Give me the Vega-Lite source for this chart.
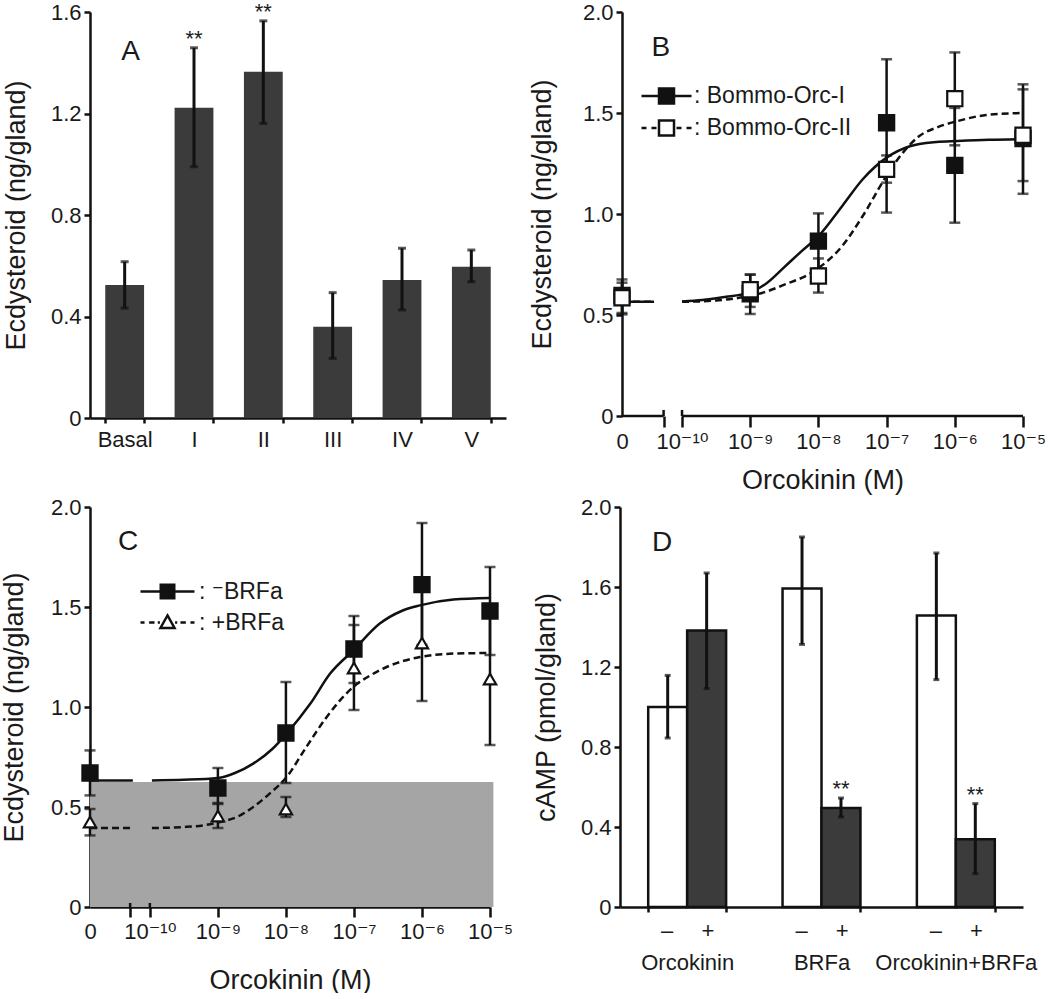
{
  "$schema": "https://vega.github.io/schema/vega-lite/v6.json",
  "padding": {"left": 0, "top": 0, "right": 0, "bottom": 0},
  "background": "white",
  "config": {
    "font": "Liberation Sans, DejaVu Sans",
    "view": {"stroke": null},
    "axis": {"labelFont": "Liberation Sans, DejaVu Sans", "titleFont": "Liberation Sans, DejaVu Sans", "labelFontSize": 22, "titleFontSize": 27, "titleFontWeight": "normal", "labelColor": "#1a1a1a", "titleColor": "#1a1a1a", "domainColor": "#111", "tickColor": "#111", "domainWidth": 2.5, "tickWidth": 2.5, "grid": false},
    "axisY": {"tickSize": 6, "labelPadding": 3, "titlePadding": 20},
    "legend": {"labelFont": "Liberation Sans, DejaVu Sans", "labelFontSize": 23, "labelColor": "#1a1a1a", "padding": 0}
  },
  "resolve": {"scale": {"fill": "independent", "shape": "independent"}, "legend": {"fill": "independent", "shape": "independent"}},
  "datasets": {
    "A": [
      {"cond": "Basal", "mean": 0.524, "lo": 0.433, "hi": 0.616, "sig": ""},
      {"cond": "I", "mean": 1.223, "lo": 0.99, "hi": 1.459, "sig": "**"},
      {"cond": "II", "mean": 1.365, "lo": 1.161, "hi": 1.565, "sig": "**"},
      {"cond": "III", "mean": 0.36, "lo": 0.235, "hi": 0.494, "sig": ""},
      {"cond": "IV", "mean": 0.544, "lo": 0.426, "hi": 0.669, "sig": ""},
      {"cond": "V", "mean": 0.596, "lo": 0.537, "hi": 0.662, "sig": ""}
    ],
    "Bpts": [
      {"series": "Bommo-Orc-I", "logc": -10.88, "mean": 0.597, "lo": 0.503, "hi": 0.676},
      {"series": "Bommo-Orc-I", "logc": -9, "mean": 0.605, "lo": 0.505, "hi": 0.70},
      {"series": "Bommo-Orc-I", "logc": -8, "mean": 0.866, "lo": 0.73, "hi": 1.003},
      {"series": "Bommo-Orc-I", "logc": -7, "mean": 1.452, "lo": 1.007, "hi": 1.766},
      {"series": "Bommo-Orc-I", "logc": -6, "mean": 1.241, "lo": 0.957, "hi": 1.525},
      {"series": "Bommo-Orc-I", "logc": -5, "mean": 1.373, "lo": 1.10, "hi": 1.642},
      {"series": "Bommo-Orc-II", "logc": -10.88, "mean": 0.585, "lo": 0.51, "hi": 0.66},
      {"series": "Bommo-Orc-II", "logc": -9, "mean": 0.625, "lo": 0.54, "hi": 0.70},
      {"series": "Bommo-Orc-II", "logc": -8, "mean": 0.693, "lo": 0.611, "hi": 0.78},
      {"series": "Bommo-Orc-II", "logc": -7, "mean": 1.221, "lo": 1.155, "hi": 1.29},
      {"series": "Bommo-Orc-II", "logc": -6, "mean": 1.571, "lo": 1.34, "hi": 1.80},
      {"series": "Bommo-Orc-II", "logc": -5, "mean": 1.39, "lo": 1.163, "hi": 1.617}
    ],
    "Bcurve": [
      {"series": "Bommo-Orc-I", "seg": "a", "logc": -10.88, "v": 0.565},
      {"series": "Bommo-Orc-I", "seg": "a", "logc": -10.41, "v": 0.565},
      {"series": "Bommo-Orc-I", "seg": "b", "logc": -10, "v": 0.567},
      {"series": "Bommo-Orc-I", "seg": "b", "logc": -9.7, "v": 0.574},
      {"series": "Bommo-Orc-I", "seg": "b", "logc": -9.4, "v": 0.588},
      {"series": "Bommo-Orc-I", "seg": "b", "logc": -9.0, "v": 0.612},
      {"series": "Bommo-Orc-I", "seg": "b", "logc": -8.75, "v": 0.66},
      {"series": "Bommo-Orc-I", "seg": "b", "logc": -8.5, "v": 0.737},
      {"series": "Bommo-Orc-I", "seg": "b", "logc": -8.25, "v": 0.815},
      {"series": "Bommo-Orc-I", "seg": "b", "logc": -8.0, "v": 0.89},
      {"series": "Bommo-Orc-I", "seg": "b", "logc": -7.65, "v": 1.04},
      {"series": "Bommo-Orc-I", "seg": "b", "logc": -7.35, "v": 1.172},
      {"series": "Bommo-Orc-I", "seg": "b", "logc": -7.0, "v": 1.279},
      {"series": "Bommo-Orc-I", "seg": "b", "logc": -6.67, "v": 1.334},
      {"series": "Bommo-Orc-I", "seg": "b", "logc": -6.27, "v": 1.356},
      {"series": "Bommo-Orc-I", "seg": "b", "logc": -5.96, "v": 1.361},
      {"series": "Bommo-Orc-I", "seg": "b", "logc": -5.5, "v": 1.367},
      {"series": "Bommo-Orc-I", "seg": "b", "logc": -5.0, "v": 1.37},
      {"series": "Bommo-Orc-II", "seg": "a", "logc": -10.88, "v": 0.565},
      {"series": "Bommo-Orc-II", "seg": "a", "logc": -10.41, "v": 0.565},
      {"series": "Bommo-Orc-II", "seg": "b", "logc": -10, "v": 0.565},
      {"series": "Bommo-Orc-II", "seg": "b", "logc": -9.5, "v": 0.572},
      {"series": "Bommo-Orc-II", "seg": "b", "logc": -9.0, "v": 0.595},
      {"series": "Bommo-Orc-II", "seg": "b", "logc": -8.8, "v": 0.612},
      {"series": "Bommo-Orc-II", "seg": "b", "logc": -8.5, "v": 0.65},
      {"series": "Bommo-Orc-II", "seg": "b", "logc": -8.1, "v": 0.71},
      {"series": "Bommo-Orc-II", "seg": "b", "logc": -7.65, "v": 0.842},
      {"series": "Bommo-Orc-II", "seg": "b", "logc": -7.35, "v": 0.99},
      {"series": "Bommo-Orc-II", "seg": "b", "logc": -7.0, "v": 1.19},
      {"series": "Bommo-Orc-II", "seg": "b", "logc": -6.76, "v": 1.304},
      {"series": "Bommo-Orc-II", "seg": "b", "logc": -6.52, "v": 1.386},
      {"series": "Bommo-Orc-II", "seg": "b", "logc": -6.25, "v": 1.43},
      {"series": "Bommo-Orc-II", "seg": "b", "logc": -5.96, "v": 1.46},
      {"series": "Bommo-Orc-II", "seg": "b", "logc": -5.54, "v": 1.49},
      {"series": "Bommo-Orc-II", "seg": "b", "logc": -5.0, "v": 1.50}
    ],
    "Cpts": [
      {"series": "-BRFa", "logc": -10.88, "mean": 0.67, "lo": 0.558, "hi": 0.783},
      {"series": "-BRFa", "logc": -9, "mean": 0.595, "lo": 0.52, "hi": 0.695},
      {"series": "-BRFa", "logc": -8, "mean": 0.87, "lo": 0.62, "hi": 1.125},
      {"series": "-BRFa", "logc": -7, "mean": 1.29, "lo": 1.12, "hi": 1.455},
      {"series": "-BRFa", "logc": -6, "mean": 1.612, "lo": 1.31, "hi": 1.92},
      {"series": "-BRFa", "logc": -5, "mean": 1.48, "lo": 1.26, "hi": 1.70},
      {"series": "+BRFa", "logc": -10.88, "mean": 0.425, "lo": 0.358, "hi": 0.49},
      {"series": "+BRFa", "logc": -9, "mean": 0.455, "lo": 0.395, "hi": 0.515},
      {"series": "+BRFa", "logc": -8, "mean": 0.49, "lo": 0.45, "hi": 0.55},
      {"series": "+BRFa", "logc": -7, "mean": 1.195, "lo": 0.985, "hi": 1.41},
      {"series": "+BRFa", "logc": -6, "mean": 1.32, "lo": 1.03, "hi": 1.61},
      {"series": "+BRFa", "logc": -5, "mean": 1.14, "lo": 0.81, "hi": 1.465}
    ],
    "Ccurve": [
      {"series": "-BRFa", "seg": "a", "logc": -10.88, "v": 0.633},
      {"series": "-BRFa", "seg": "a", "logc": -10.25, "v": 0.633},
      {"series": "-BRFa", "seg": "b", "logc": -9.97, "v": 0.633},
      {"series": "-BRFa", "seg": "b", "logc": -9.5, "v": 0.636},
      {"series": "-BRFa", "seg": "b", "logc": -9.0, "v": 0.645},
      {"series": "-BRFa", "seg": "b", "logc": -8.75, "v": 0.67},
      {"series": "-BRFa", "seg": "b", "logc": -8.48, "v": 0.717},
      {"series": "-BRFa", "seg": "b", "logc": -8.2, "v": 0.79},
      {"series": "-BRFa", "seg": "b", "logc": -7.99, "v": 0.867},
      {"series": "-BRFa", "seg": "b", "logc": -7.64, "v": 1.017},
      {"series": "-BRFa", "seg": "b", "logc": -7.35, "v": 1.167},
      {"series": "-BRFa", "seg": "b", "logc": -7.01, "v": 1.283},
      {"series": "-BRFa", "seg": "b", "logc": -6.62, "v": 1.417},
      {"series": "-BRFa", "seg": "b", "logc": -6.3, "v": 1.48},
      {"series": "-BRFa", "seg": "b", "logc": -6.03, "v": 1.508},
      {"series": "-BRFa", "seg": "b", "logc": -5.54, "v": 1.537},
      {"series": "-BRFa", "seg": "b", "logc": -5.0, "v": 1.545},
      {"series": "+BRFa", "seg": "a", "logc": -10.88, "v": 0.395},
      {"series": "+BRFa", "seg": "a", "logc": -10.25, "v": 0.395},
      {"series": "+BRFa", "seg": "b", "logc": -9.97, "v": 0.395},
      {"series": "+BRFa", "seg": "b", "logc": -9.5, "v": 0.40},
      {"series": "+BRFa", "seg": "b", "logc": -9.22, "v": 0.408},
      {"series": "+BRFa", "seg": "b", "logc": -8.97, "v": 0.425},
      {"series": "+BRFa", "seg": "b", "logc": -8.72, "v": 0.45},
      {"series": "+BRFa", "seg": "b", "logc": -8.48, "v": 0.50},
      {"series": "+BRFa", "seg": "b", "logc": -8.24, "v": 0.567},
      {"series": "+BRFa", "seg": "b", "logc": -7.99, "v": 0.65},
      {"series": "+BRFa", "seg": "b", "logc": -7.7, "v": 0.80},
      {"series": "+BRFa", "seg": "b", "logc": -7.4, "v": 0.95},
      {"series": "+BRFa", "seg": "b", "logc": -7.01, "v": 1.10},
      {"series": "+BRFa", "seg": "b", "logc": -6.75, "v": 1.16},
      {"series": "+BRFa", "seg": "b", "logc": -6.52, "v": 1.20},
      {"series": "+BRFa", "seg": "b", "logc": -6.03, "v": 1.25},
      {"series": "+BRFa", "seg": "b", "logc": -5.54, "v": 1.267},
      {"series": "+BRFa", "seg": "b", "logc": -5.0, "v": 1.27}
    ],
    "D": [
      {"grp": "Orcokinin", "trt": "-", "mean": 1.0, "lo": 0.845, "hi": 1.158, "sig": ""},
      {"grp": "Orcokinin", "trt": "+", "mean": 1.383, "lo": 1.092, "hi": 1.67, "sig": ""},
      {"grp": "BRFa", "trt": "-", "mean": 1.592, "lo": 1.313, "hi": 1.85, "sig": ""},
      {"grp": "BRFa", "trt": "+", "mean": 0.495, "lo": 0.45, "hi": 0.545, "sig": "**"},
      {"grp": "Orcokinin+BRFa", "trt": "-", "mean": 1.458, "lo": 1.137, "hi": 1.77, "sig": ""},
      {"grp": "Orcokinin+BRFa", "trt": "+", "mean": 0.339, "lo": 0.167, "hi": 0.517, "sig": "**"}
    ]
  },
  "spacing": 3,
  "vconcat": [
    {
      "spacing": 22,
      "resolve": {"scale": {"fill": "independent", "shape": "independent"}, "legend": {"fill": "independent", "shape": "independent"}},
      "hconcat": [
        {
          "width": 416, "height": 406,
          "data": {"name": "A"},
          "layer": [
            {"mark": {"type": "bar", "color": "#3b3b3b"},
             "encoding": {
               "x": {"field": "cond", "type": "nominal", "sort": null, "scale": {"paddingInner": 0.44, "paddingOuter": 0.22},
                     "axis": {"title": null, "labelAngle": 0, "tickBand": "extent", "tickSize": 5, "labelPadding": 6}},
               "y": {"field": "mean", "type": "quantitative", "scale": {"domain": [0, 1.6], "nice": false}, "title": "Ecdysteroid (ng/gland)",
                     "axis": {"values": [0, 0.4, 0.8, 1.2, 1.6], "labelExpr": "datum.value == 0 ? '0' : format(datum.value, '.1f')"}}}},
            {"mark": {"type": "rule", "strokeWidth": 3, "color": "#111"},
             "encoding": {"x": {"field": "cond", "type": "nominal", "sort": null}, "y": {"field": "lo", "type": "quantitative", "title": "Ecdysteroid (ng/gland)"}, "y2": {"field": "hi"}}},
            {"mark": {"type": "tick", "orient": "horizontal", "size": 8, "thickness": 3, "color": "#111"},
             "encoding": {"x": {"field": "cond", "type": "nominal", "sort": null}, "y": {"field": "hi", "type": "quantitative", "title": "Ecdysteroid (ng/gland)"}}},
            {"mark": {"type": "tick", "orient": "horizontal", "size": 8, "thickness": 3, "color": "#111"},
             "encoding": {"x": {"field": "cond", "type": "nominal", "sort": null}, "y": {"field": "lo", "type": "quantitative", "title": "Ecdysteroid (ng/gland)"}}},
            {"mark": {"type": "text", "fontSize": 22, "dy": -2, "baseline": "alphabetic", "color": "#1a1a1a"},
             "encoding": {"x": {"field": "cond", "type": "nominal", "sort": null}, "y": {"field": "hi", "type": "quantitative", "title": "Ecdysteroid (ng/gland)"}, "text": {"field": "sig"}}},
            {"data": {"values": [{}]},
             "mark": {"type": "text", "text": "A", "fontSize": 28, "dx": 6, "baseline": "middle", "color": "#1a1a1a"},
             "encoding": {"x": {"datum": "Basal", "type": "nominal"}, "y": {"datum": 1.444, "type": "quantitative"}}}
          ]
        },
        {
          "width": 401, "height": 404,
          "layer": [
            {"data": {"name": "Bcurve"},
             "transform": [{"filter": "datum.series == 'Bommo-Orc-I'"}],
             "mark": {"type": "line", "interpolate": "monotone", "strokeWidth": 2.5, "color": "#111"},
             "encoding": {
               "x": {"field": "logc", "type": "quantitative", "scale": {"domain": [-10.88, -5], "nice": false, "zero": false}, "title": "Orcokinin (M)",
                     "axis": {"values": [-10.88, -10.27, -10, -9, -8, -7, -6, -5], "domain": false, "tickSize": 11, "labelPadding": 4, "labelOverlap": false, "labelFlush": false,
                              "tickOpacity": {"condition": {"test": "datum.value < -10.5", "value": 0}, "value": 1},
                              "labelExpr": "datum.value < -10.5 ? '0' : datum.value < -10.1 ? '' : datum.value == -10 ? '10⁻¹⁰' : datum.value == -9 ? '10⁻⁹' : datum.value == -8 ? '10⁻⁸' : datum.value == -7 ? '10⁻⁷' : datum.value == -6 ? '10⁻⁶' : '10⁻⁵'",
                              "titlePadding": 15}},
               "y": {"field": "v", "type": "quantitative", "scale": {"domain": [0, 2], "nice": false}, "title": "Ecdysteroid (ng/gland)",
                     "axis": {"values": [0, 0.5, 1, 1.5, 2], "labelExpr": "datum.value == 0 ? '0' : format(datum.value, '.1f')", "titlePadding": 26}},
               "detail": {"field": "seg", "type": "nominal"}}},
            {"data": {"name": "Bcurve"},
             "transform": [{"filter": "datum.series == 'Bommo-Orc-II'"}],
             "mark": {"type": "line", "interpolate": "monotone", "strokeWidth": 2.5, "color": "#111", "strokeDash": [7, 4]},
             "encoding": {
               "x": {"field": "logc", "type": "quantitative", "title": "Orcokinin (M)"},
               "y": {"field": "v", "type": "quantitative", "title": "Ecdysteroid (ng/gland)"},
               "detail": {"field": "seg", "type": "nominal"}}},
            {"data": {"name": "Bpts"},
             "mark": {"type": "rule", "strokeWidth": 2.5, "color": "#111"},
             "encoding": {"x": {"field": "logc", "type": "quantitative", "title": "Orcokinin (M)"}, "y": {"field": "lo", "type": "quantitative", "title": "Ecdysteroid (ng/gland)"}, "y2": {"field": "hi"}}},
            {"data": {"name": "Bpts"},
             "mark": {"type": "tick", "orient": "horizontal", "size": 11, "thickness": 2.5, "color": "#111"},
             "encoding": {"x": {"field": "logc", "type": "quantitative", "title": "Orcokinin (M)"}, "y": {"field": "hi", "type": "quantitative", "title": "Ecdysteroid (ng/gland)"}}},
            {"data": {"name": "Bpts"},
             "mark": {"type": "tick", "orient": "horizontal", "size": 11, "thickness": 2.5, "color": "#111"},
             "encoding": {"x": {"field": "logc", "type": "quantitative", "title": "Orcokinin (M)"}, "y": {"field": "lo", "type": "quantitative", "title": "Ecdysteroid (ng/gland)"}}},
            {"data": {"name": "Bpts"},
             "mark": {"type": "point", "shape": "square", "filled": true, "size": 230, "stroke": "#111", "strokeWidth": 2.2, "opacity": 1},
             "encoding": {"x": {"field": "logc", "type": "quantitative", "title": "Orcokinin (M)"}, "y": {"field": "mean", "type": "quantitative", "title": "Ecdysteroid (ng/gland)"},
               "fill": {"field": "series", "type": "nominal", "scale": {"domain": ["Bommo-Orc-I", "Bommo-Orc-II"], "range": ["#111", "#ffffff"]},
                 "legend": {"orient": "none", "legendX": 18, "legendY": 69, "title": null, "symbolSize": 2500, "clipHeight": 30, "labelOffset": 1, "symbolStrokeWidth": 2.5, "symbolStrokeColor": "#111", "labelExpr": "': ' + datum.label", "labelLimit": 300}}}},
            {"data": {"name": "Bpts"},
             "mark": {"type": "point", "filled": true, "opacity": 0, "stroke": "#111", "strokeWidth": 2.5},
             "encoding": {"x": {"field": "logc", "type": "quantitative", "title": "Orcokinin (M)"}, "y": {"field": "mean", "type": "quantitative", "title": "Ecdysteroid (ng/gland)"},
               "shape": {"field": "series", "type": "nominal",
                 "scale": {"domain": ["Bommo-Orc-I", "Bommo-Orc-II"], "range": ["M-1,0H-0.3M0.3,0H1M-0.3,-0.3H0.3V0.3H-0.3Z", "M-1,0H-0.8M-0.6,0H-0.4M0.4,0H0.6M0.8,0H1M-0.3,-0.3H0.3V0.3H-0.3Z"]},
                 "legend": {"orient": "none", "legendX": 18, "legendY": 69, "title": null, "symbolSize": 2500, "clipHeight": 30, "labelOffset": 1, "symbolStrokeWidth": 2.5, "symbolStrokeColor": "#111", "labelExpr": "': ' + datum.label", "labelLimit": 300}},
               "fill": {"field": "series", "type": "nominal", "scale": {"domain": ["Bommo-Orc-I", "Bommo-Orc-II"], "range": ["#111", "#ffffff"]},
                 "legend": {"orient": "none", "legendX": 18, "legendY": 69, "title": null, "symbolSize": 2500, "clipHeight": 30, "labelOffset": 1, "symbolStrokeWidth": 2.5, "symbolStrokeColor": "#111", "labelExpr": "': ' + datum.label", "labelLimit": 300}}}},
            {"data": {"values": [{}]}, "mark": {"type": "rule", "strokeWidth": 2.5, "color": "#111"},
             "encoding": {"x": {"datum": -10.88, "type": "quantitative"}, "x2": {"datum": -10.27}, "y": {"datum": 0, "type": "quantitative"}}},
            {"data": {"values": [{}]}, "mark": {"type": "rule", "strokeWidth": 2.5, "color": "#111"},
             "encoding": {"x": {"datum": -10, "type": "quantitative"}, "x2": {"datum": -5}, "y": {"datum": 0, "type": "quantitative"}}},
            {"data": {"values": [{}]}, "mark": {"type": "rule", "strokeWidth": 2.5, "color": "#111"},
             "encoding": {"x": {"datum": -10.27, "type": "quantitative"}, "y": {"datum": 0, "type": "quantitative"}, "y2": {"datum": 0.03}}},
            {"data": {"values": [{}]}, "mark": {"type": "rule", "strokeWidth": 2.5, "color": "#111"},
             "encoding": {"x": {"datum": -10, "type": "quantitative"}, "y": {"datum": 0, "type": "quantitative"}, "y2": {"datum": 0.03}}},
            {"data": {"values": [{}]},
             "mark": {"type": "text", "text": "B", "fontSize": 28, "baseline": "middle", "color": "#1a1a1a"},
             "encoding": {"x": {"datum": -10.31, "type": "quantitative"}, "y": {"datum": 1.823, "type": "quantitative"}}}
          ]
        }
      ]
    },
    {
      "spacing": 19,
      "resolve": {"scale": {"fill": "independent", "shape": "independent"}, "legend": {"fill": "independent", "shape": "independent"}},
      "hconcat": [
        {
          "width": 400, "height": 400,
          "layer": [
            {"data": {"values": [{}]}, "mark": {"type": "rect", "color": "#a5a5a5"},
             "encoding": {"x": {"datum": -10.88, "type": "quantitative"}, "x2": {"datum": -4.95}, "y": {"datum": 0, "type": "quantitative"}, "y2": {"datum": 0.625}}},
            {"data": {"name": "Ccurve"},
             "transform": [{"filter": "datum.series == '-BRFa'"}],
             "mark": {"type": "line", "interpolate": "monotone", "strokeWidth": 2.5, "color": "#111"},
             "encoding": {
               "x": {"field": "logc", "type": "quantitative", "scale": {"domain": [-10.88, -5], "nice": false, "zero": false}, "title": "Orcokinin (M)",
                     "axis": {"values": [-10.88, -10.29, -10, -9, -8, -7, -6, -5], "tickSize": 10, "labelPadding": 4, "labelOverlap": false, "labelFlush": false,
                              "tickOpacity": {"condition": {"test": "datum.value < -10.5", "value": 0}, "value": 1},
                              "labelExpr": "datum.value < -10.5 ? '0' : datum.value < -10.1 ? '' : datum.value == -10 ? '10⁻¹⁰' : datum.value == -9 ? '10⁻⁹' : datum.value == -8 ? '10⁻⁸' : datum.value == -7 ? '10⁻⁷' : datum.value == -6 ? '10⁻⁶' : '10⁻⁵'",
                              "titlePadding": 25}},
               "y": {"field": "v", "type": "quantitative", "scale": {"domain": [0, 2], "nice": false}, "title": "Ecdysteroid (ng/gland)",
                     "axis": {"values": [0, 0.5, 1, 1.5, 2], "labelExpr": "datum.value == 0 ? '0' : format(datum.value, '.1f')", "titlePadding": 22}},
               "detail": {"field": "seg", "type": "nominal"}}},
            {"data": {"name": "Ccurve"},
             "transform": [{"filter": "datum.series == '+BRFa'"}],
             "mark": {"type": "line", "interpolate": "monotone", "strokeWidth": 2.5, "color": "#111", "strokeDash": [7, 4]},
             "encoding": {
               "x": {"field": "logc", "type": "quantitative", "title": "Orcokinin (M)"},
               "y": {"field": "v", "type": "quantitative", "title": "Ecdysteroid (ng/gland)"},
               "detail": {"field": "seg", "type": "nominal"}}},
            {"data": {"name": "Cpts"},
             "mark": {"type": "rule", "strokeWidth": 2.5, "color": "#111"},
             "encoding": {"x": {"field": "logc", "type": "quantitative", "title": "Orcokinin (M)"}, "y": {"field": "lo", "type": "quantitative", "title": "Ecdysteroid (ng/gland)"}, "y2": {"field": "hi"}}},
            {"data": {"name": "Cpts"},
             "mark": {"type": "tick", "orient": "horizontal", "size": 11, "thickness": 2.5, "color": "#111"},
             "encoding": {"x": {"field": "logc", "type": "quantitative", "title": "Orcokinin (M)"}, "y": {"field": "hi", "type": "quantitative", "title": "Ecdysteroid (ng/gland)"}}},
            {"data": {"name": "Cpts"},
             "mark": {"type": "tick", "orient": "horizontal", "size": 11, "thickness": 2.5, "color": "#111"},
             "encoding": {"x": {"field": "logc", "type": "quantitative", "title": "Orcokinin (M)"}, "y": {"field": "lo", "type": "quantitative", "title": "Ecdysteroid (ng/gland)"}}},
            {"data": {"name": "Cpts"},
             "transform": [{"filter": "datum.series == '-BRFa'"}],
             "mark": {"type": "point", "shape": "square", "filled": true, "size": 230, "stroke": "#111", "strokeWidth": 2.2, "opacity": 1},
             "encoding": {"x": {"field": "logc", "type": "quantitative", "title": "Orcokinin (M)"}, "y": {"field": "mean", "type": "quantitative", "title": "Ecdysteroid (ng/gland)"},
               "fill": {"field": "series", "type": "nominal", "scale": {"domain": ["-BRFa", "+BRFa"], "range": ["#111", "#ffffff"]},
                 "legend": {"orient": "none", "legendX": 49, "legendY": 70, "title": null, "symbolSize": 2916, "clipHeight": 29, "labelOffset": 3, "symbolStrokeWidth": 2.5, "symbolStrokeColor": "#111", "labelExpr": "datum.label == '-BRFa' ? ': ⁻BRFa' : ': +BRFa'", "labelLimit": 300}}}},
            {"data": {"name": "Cpts"},
             "transform": [{"filter": "datum.series == '+BRFa'"}],
             "mark": {"type": "point", "shape": "triangle-up", "filled": true, "size": 150, "stroke": "#111", "strokeWidth": 2.2, "opacity": 1},
             "encoding": {"x": {"field": "logc", "type": "quantitative", "title": "Orcokinin (M)"}, "y": {"field": "mean", "type": "quantitative", "title": "Ecdysteroid (ng/gland)"},
               "fill": {"field": "series", "type": "nominal", "scale": {"domain": ["-BRFa", "+BRFa"], "range": ["#111", "#ffffff"]},
                 "legend": {"orient": "none", "legendX": 49, "legendY": 70, "title": null, "symbolSize": 2916, "clipHeight": 29, "labelOffset": 3, "symbolStrokeWidth": 2.5, "symbolStrokeColor": "#111", "labelExpr": "datum.label == '-BRFa' ? ': ⁻BRFa' : ': +BRFa'", "labelLimit": 300}}}},
            {"data": {"name": "Cpts"},
             "mark": {"type": "point", "filled": true, "opacity": 0, "stroke": "#111", "strokeWidth": 2.5},
             "encoding": {"x": {"field": "logc", "type": "quantitative", "title": "Orcokinin (M)"}, "y": {"field": "mean", "type": "quantitative", "title": "Ecdysteroid (ng/gland)"},
               "shape": {"field": "series", "type": "nominal",
                 "scale": {"domain": ["-BRFa", "+BRFa"], "range": ["M-1,0H-0.25M0.25,0H1M-0.25,-0.25H0.25V0.25H-0.25Z", "M-1,0H-0.85M-0.68,0H-0.48M-0.36,0H-0.28M0.28,0H0.36M0.48,0H0.68M0.85,0H1M0,-0.26L0.26,0.2L-0.26,0.2Z"]},
                 "legend": {"orient": "none", "legendX": 49, "legendY": 70, "title": null, "symbolSize": 2916, "clipHeight": 29, "labelOffset": 3, "symbolStrokeWidth": 2.5, "symbolStrokeColor": "#111", "labelExpr": "datum.label == '-BRFa' ? ': ⁻BRFa' : ': +BRFa'", "labelLimit": 300}},
               "fill": {"field": "series", "type": "nominal", "scale": {"domain": ["-BRFa", "+BRFa"], "range": ["#111", "#ffffff"]},
                 "legend": {"orient": "none", "legendX": 49, "legendY": 70, "title": null, "symbolSize": 2916, "clipHeight": 29, "labelOffset": 3, "symbolStrokeWidth": 2.5, "symbolStrokeColor": "#111", "labelExpr": "datum.label == '-BRFa' ? ': ⁻BRFa' : ': +BRFa'", "labelLimit": 300}}}},
            {"data": {"values": [{}]}, "mark": {"type": "rule", "strokeWidth": 2.5, "color": "#111"},
             "encoding": {"x": {"datum": -10.29, "type": "quantitative"}, "y": {"datum": 0, "type": "quantitative"}, "y2": {"datum": 0.02}}},
            {"data": {"values": [{}]}, "mark": {"type": "rule", "strokeWidth": 2.5, "color": "#111"},
             "encoding": {"x": {"datum": -10, "type": "quantitative"}, "y": {"datum": 0, "type": "quantitative"}, "y2": {"datum": 0.02}}},
            {"data": {"values": [{}]},
             "mark": {"type": "text", "text": "C", "fontSize": 28, "baseline": "middle", "color": "#1a1a1a"},
             "encoding": {"x": {"datum": -10.32, "type": "quantitative"}, "y": {"datum": 1.825, "type": "quantitative"}}}
          ]
        },
        {
          "width": 403, "height": 400,
          "data": {"name": "D"},
          "layer": [
            {"mark": {"type": "bar", "stroke": "#111", "strokeWidth": 2.5},
             "encoding": {
               "x": {"field": "grp", "type": "nominal", "sort": null, "scale": {"paddingInner": 0.42, "paddingOuter": 0.21},
                     "axis": {"title": null, "labelAngle": 0, "tickBand": "extent", "tickSize": 5, "labelPadding": 8, "labelLineHeight": 32,
                              "labelExpr": "datum.label ? ['\u2013\u2002\u2002 +', datum.label] : ''"}},
               "xOffset": {"field": "trt", "type": "nominal", "sort": ["-", "+"], "scale": {"paddingInner": 0, "paddingOuter": 0}},
               "y": {"field": "mean", "type": "quantitative", "scale": {"domain": [0, 2], "nice": false}, "title": "cAMP (pmol/gland)",
                     "axis": {"values": [0, 0.4, 0.8, 1.2, 1.6, 2.0], "labelExpr": "datum.value == 0 ? '0' : format(datum.value, '.1f')", "titlePadding": 20}},
               "fill": {"field": "trt", "type": "nominal", "scale": {"domain": ["-", "+"], "range": ["#ffffff", "#3b3b3b"]}, "legend": null}}},
            {"mark": {"type": "rule", "strokeWidth": 3, "color": "#111"},
             "encoding": {"x": {"field": "grp", "type": "nominal", "sort": null}, "xOffset": {"field": "trt", "type": "nominal", "sort": ["-", "+"]},
               "y": {"field": "lo", "type": "quantitative", "title": "cAMP (pmol/gland)"}, "y2": {"field": "hi"}}},
            {"mark": {"type": "tick", "orient": "horizontal", "size": 6, "thickness": 3, "color": "#111"},
             "encoding": {"x": {"field": "grp", "type": "nominal", "sort": null}, "xOffset": {"field": "trt", "type": "nominal", "sort": ["-", "+"]},
               "y": {"field": "hi", "type": "quantitative", "title": "cAMP (pmol/gland)"}}},
            {"mark": {"type": "tick", "orient": "horizontal", "size": 6, "thickness": 3, "color": "#111"},
             "encoding": {"x": {"field": "grp", "type": "nominal", "sort": null}, "xOffset": {"field": "trt", "type": "nominal", "sort": ["-", "+"]},
               "y": {"field": "lo", "type": "quantitative", "title": "cAMP (pmol/gland)"}}},
            {"mark": {"type": "text", "fontSize": 22, "dy": -2, "baseline": "alphabetic", "color": "#1a1a1a"},
             "encoding": {"x": {"field": "grp", "type": "nominal", "sort": null}, "xOffset": {"field": "trt", "type": "nominal", "sort": ["-", "+"]},
               "y": {"field": "hi", "type": "quantitative", "title": "cAMP (pmol/gland)"}, "text": {"field": "sig"}}},
            {"data": {"values": [{}]},
             "mark": {"type": "text", "text": "D", "fontSize": 28, "dx": -25, "baseline": "middle", "color": "#1a1a1a"},
             "encoding": {"x": {"datum": "Orcokinin", "type": "nominal"}, "y": {"datum": 1.818, "type": "quantitative"}}}
          ]
        }
      ]
    }
  ]
}
